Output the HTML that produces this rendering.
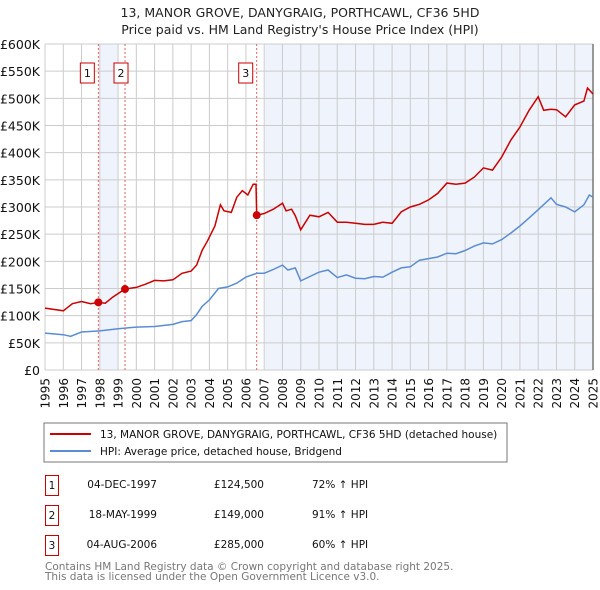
<!DOCTYPE html>
<html><head><meta charset="utf-8"><style>
body{margin:0;background:#fff;width:600px;height:590px;overflow:hidden;font-family:"DejaVu Sans","Liberation Sans",sans-serif}
svg{display:block}
</style></head><body>
<svg id="c" width="600" height="590" xmlns="http://www.w3.org/2000/svg" font-family="DejaVu Sans, Liberation Sans, sans-serif">
<text x="300" y="17" text-anchor="middle" font-size="12.5" fill="#222">13, MANOR GROVE, DANYGRAIG, PORTHCAWL, CF36 5HD</text>
<text x="300" y="34" text-anchor="middle" font-size="12.5" fill="#222">Price paid vs. HM Land Registry's House Price Index (HPI)</text>
<g id="plot"></g>
<rect x="44" y="423" width="463" height="39" fill="#fff" stroke="#777" stroke-width="1"/>
<line x1="50" y1="434" x2="91" y2="434" stroke="#cc0000" stroke-width="2"/>
<text x="100" y="438" font-size="10.5" fill="#111">13, MANOR GROVE, DANYGRAIG, PORTHCAWL, CF36 5HD (detached house)</text>
<line x1="50" y1="451" x2="91" y2="451" stroke="#5b8dd3" stroke-width="2"/>
<text x="100" y="455" font-size="10.5" fill="#111">HPI: Average price, detached house, Bridgend</text>
<g font-size="10.5" fill="#111">
<rect x="45.5" y="475.5" width="13" height="20" fill="none" stroke="#cc0000"/>
<text x="52" y="489" text-anchor="middle">1</text>
<text x="157" y="488" text-anchor="end">04-DEC-1997</text>
<text x="264" y="488" text-anchor="end">£124,500</text>
<text x="312" y="488">72% ↑ HPI</text>
<rect x="45.5" y="505.5" width="13" height="20" fill="none" stroke="#cc0000"/>
<text x="52" y="519" text-anchor="middle">2</text>
<text x="157" y="518" text-anchor="end">18-MAY-1999</text>
<text x="264" y="518" text-anchor="end">£149,000</text>
<text x="312" y="518">91% ↑ HPI</text>
<rect x="45.5" y="535.5" width="13" height="20" fill="none" stroke="#cc0000"/>
<text x="52" y="549" text-anchor="middle">3</text>
<text x="157" y="548" text-anchor="end">04-AUG-2006</text>
<text x="264" y="548" text-anchor="end">£285,000</text>
<text x="312" y="548">60% ↑ HPI</text>
</g>
<text x="45" y="570" font-size="10.5" fill="#777">Contains HM Land Registry data © Crown copyright and database right 2025.</text>
<text x="45" y="580" font-size="10.5" fill="#777">This data is licensed under the Open Government Licence v3.0.</text>
</svg>
<script>
const hpiYears=[1995,1996,1996.4,1997,1998,1999,2000,2001,2002,2002.5,2003,2003.3,2003.6,2004,2004.5,2005,2005.5,2006,2006.6,2007,2007.5,2008,2008.3,2008.7,2009,2009.5,2010,2010.5,2011,2011.5,2012,2012.5,2013,2013.5,2014,2014.5,2015,2015.5,2016,2016.5,2017,2017.5,2018,2018.5,2019,2019.5,2020,2020.5,2021,2021.5,2022,2022.7,2023,2023.5,2024,2024.5,2024.8,2025];
const hpiValues=[68000,65000,62000,70000,72000,76000,79000,80000,84000,89000,91000,102000,117000,129000,150000,153000,160000,171000,178000,178000,185000,193000,184000,188000,164000,172000,180000,184000,170000,175000,169000,168000,172000,171000,180000,188000,190000,202000,205000,208000,215000,214000,220000,228000,234000,232000,240000,252000,265000,280000,295000,317000,305000,300000,291000,304000,322000,318000];
const saleYears=[1995,1996,1996.5,1997,1997.5,1997.92,1998.3,1998.7,1999.38,2000,2000.5,2001,2001.5,2002,2002.5,2003,2003.3,2003.6,2003.9,2004.3,2004.6,2004.8,2005.2,2005.5,2005.8,2006.1,2006.4,2006.55,2006.59,2007,2007.5,2008,2008.2,2008.5,2008.7,2009,2009.5,2010,2010.5,2011,2011.5,2012,2012.5,2013,2013.5,2014,2014.5,2015,2015.5,2016,2016.5,2017,2017.5,2018,2018.5,2019,2019.5,2020,2020.5,2021,2021.5,2022,2022.3,2022.7,2023,2023.5,2024,2024.5,2024.7,2025];
const saleValues=[114000,109000,122000,126000,122000,124500,123000,134000,149000,152000,158000,165000,164000,166000,178000,182000,193000,220000,238000,265000,304000,293000,290000,318000,330000,322000,342000,342000,285000,288000,296000,307000,293000,296000,284000,258000,285000,282000,290000,272000,272000,270000,268000,268000,272000,270000,291000,300000,305000,313000,325000,344000,342000,344000,355000,372000,368000,392000,423000,447000,478000,503000,478000,480000,479000,466000,488000,495000,519000,508000];
const saleMarkers=[[1997.92,124500],[1999.38,149000],[2006.59,285000]];
const yTicks=[0,50000,100000,150000,200000,250000,300000,350000,400000,450000,500000,550000,600000];
const yTickLabels=["£0","£50K","£100K","£150K","£200K","£250K","£300K","£350K","£400K","£450K","£500K","£550K","£600K"];
const xTicks=[1995,1996,1997,1998,1999,2000,2001,2002,2003,2004,2005,2006,2007,2008,2009,2010,2011,2012,2013,2014,2015,2016,2017,2018,2019,2020,2021,2022,2023,2024,2025];

const L=45,R=593,T=44,B=370;
const x=v=>L+(v-1995)/30*(R-L);
const y=v=>B-v/600000*(B-T);
const NS="http://www.w3.org/2000/svg";
const g=document.getElementById('plot');
function mk(tag,attrs){const e=document.createElementNS(NS,tag);for(const k in attrs)e.setAttribute(k,attrs[k]);g.appendChild(e);return e;}
let e;
e=mk('rect',{x:x(1997.92)+1,y:T,width:x(1998.95)-x(1997.92),height:B-T,fill:'#eef3fc'});


e=mk('rect',{x:x(2007.05),y:T,width:R-x(2007.05),height:B-T,fill:'#eef3fc'});


yTicks.forEach((t,i)=>{
 e=mk('line',{x1:L,x2:R,y1:y(t),y2:y(t),stroke:'#cccccc','stroke-width':1});
 
 
 e=mk('text',{x:40,y:y(t)+5,'text-anchor':'end','font-size':12.5,fill:'#111'});
 e.textContent=yTickLabels[i];
 
 
});
xTicks.forEach(t=>{
 e=mk('line',{x1:x(t),x2:x(t),y1:T,y2:B,stroke:'#cccccc','stroke-width':1});
 
 
 const tx=x(t)+4.5, ty=378;
 e=mk('text',{x:tx,y:ty,'text-anchor':'end','font-size':12,fill:'#111',transform:'rotate(-90 '+tx+' '+ty+')'});
 e.textContent=String(t);
 
 
});
e=mk('line',{x1:R,x2:R,y1:T,y2:B,stroke:'#777','stroke-width':1.5});


saleMarkers.forEach((m,i)=>{
 e=mk('line',{x1:x(m[0]),x2:x(m[0]),y1:T,y2:B,stroke:'#e06060','stroke-width':1,'stroke-dasharray':'2,2'});
 
 
});
const path=(xs,vs)=>xs.map((t,i)=>(i?'L':'M')+x(t).toFixed(1)+','+y(vs[i]).toFixed(1)).join('');
e=mk('path',{d:path(hpiYears,hpiValues),fill:'none',stroke:'#5b8dd3','stroke-width':1.5});


e=mk('path',{d:path(saleYears,saleValues),fill:'none',stroke:'#cc0000','stroke-width':1.5});


saleMarkers.forEach((m,i)=>{
 e=mk('circle',{cx:x(m[0]),cy:y(m[1]),r:4,fill:'#cc0000'});
 
 
 const bx=x(m[0])-(i==1?4:11);
 e=mk('rect',{x:bx-7,y:63,width:14,height:20,fill:'#fff',stroke:'#cc0000'});
 
 
 e=mk('text',{x:bx,y:77,'text-anchor':'middle','font-size':11,fill:'#111'});
 e.textContent=String(i+1);
 
 
});
</script>
</body></html>
